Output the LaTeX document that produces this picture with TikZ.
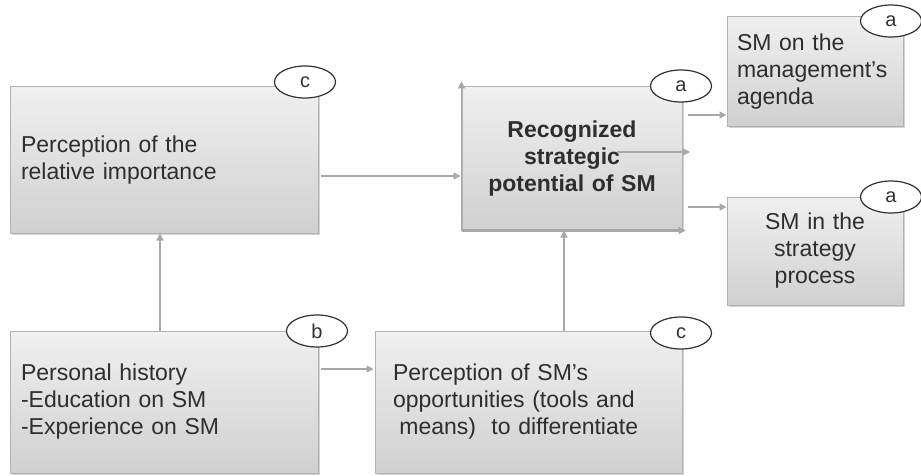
\documentclass[tikz,border=0pt]{standalone}
\usepackage{fontspec}
\setmainfont{Liberation Sans}
\usetikzlibrary{shapes.geometric,arrows.meta,shadows,calc}
\definecolor{boxline}{HTML}{B2B2B2}
\definecolor{boxtop}{HTML}{F0F0F0}
\definecolor{boxbot}{HTML}{D0D0D0}
\definecolor{txt}{HTML}{2E2E2E}
\definecolor{conncol}{HTML}{A8A8A8}
\definecolor{tagline}{HTML}{333333}
\tikzset{
  box/.style={rectangle, draw=boxline, line width=1pt, top color=boxtop, bottom color=boxbot,
    drop shadow={shadow xshift=1.5pt, shadow yshift=-1.5pt, opacity=0.35},
    text=txt, font=\fontsize{23}{27}\selectfont, inner ysep=0pt},
  tag/.style={ellipse, draw=tagline, line width=1.2pt, fill=white, minimum width=61pt,
    minimum height=32pt, inner sep=0pt, text=tagline, font=\fontsize{20}{22}\selectfont},
  conn/.style={draw=conncol, line width=1.4pt, -{Triangle[length=7pt,width=7pt]}},
}
\begin{document}
\begin{tikzpicture}[x=1pt,y=-1pt]
\useasboundingbox (0,0) rectangle (921,476);
% boxes
\node[box, minimum width=308pt, minimum height=146pt, text width=286pt, align=left, inner xsep=11pt]
  (imp) at (164,160) {Perception of the\\relative importance};
\node[box, minimum width=220pt, minimum height=143pt, text width=200pt, align=center, inner xsep=10pt, font=\fontsize{23}{27}\selectfont\bfseries]
  (rsp) at (572,158.5) {Recognized\\strategic\\potential of SM};
\node[box, minimum width=176pt, minimum height=110pt, text width=160pt, align=left, inner xsep=8pt]
  (agenda) at (815,72) {\hspace*{2pt}SM on the\\\hspace*{2pt}management’s\\\hspace*{2pt}agenda};
\node[box, minimum width=176pt, minimum height=108pt, text width=156pt, align=center, inner xsep=10pt]
  (strat) at (815,251) {SM in the\\strategy\\process};
\node[box, minimum width=308pt, minimum height=142pt, text width=286pt, align=left, inner xsep=11pt]
  (hist) at (164,402) {Personal history\\-Education on SM\\-Experience on SM};
\node[box, minimum width=307pt, minimum height=142pt, text width=271pt, align=left, inner xsep=18pt]
  (opp) at (528.5,402) {Perception of SM’s\\opportunities (tools and\\\hspace*{0.28em}means)\ \ to differentiate};
% connectors
\draw[conn, shorten <=2pt, shorten >=1pt] ([yshift=-16pt]imp.east) -- ([yshift=-16pt]imp.east -| rsp.west);
\draw[conn] ([xshift=-4pt]hist.north) -- ([xshift=-4pt]imp.south);
\draw[conn, shorten <=2pt, shorten >=1pt] ([yshift=33pt]hist.east) -- ([yshift=33pt]hist.east -| opp.west);
\draw[conn] ([xshift=-8pt]rsp.south |- opp.north) -- ([xshift=-8pt]rsp.south);
\draw[conn, shorten <=5pt] ([yshift=43.5pt]rsp.east) -- ([yshift=43.5pt]rsp.east -| agenda.west);
\draw[conn, shorten <=5pt] ([yshift=-48.5pt]rsp.east) -- ([yshift=-48.5pt]rsp.east -| strat.west);
% stray arrows on the central box
\draw[conn] (rsp.south west) -- ([yshift=5pt]rsp.north west);
\draw[conn, line width=2.2pt] (rsp.south west) -- ([xshift=3pt]rsp.south east);
\draw[conn] ([xshift=45pt,yshift=6.5pt]rsp.center) -- ([xshift=118pt,yshift=6.5pt]rsp.center);
% tags
\node[tag] (timp) at (305,82) {c};
\node[tag] (trsp) at (681,86) {a};
\node[tag] (tagenda) at (891,21) {a};
\node[tag] (tstrat) at (891,197) {a};
\node[tag] (thist) at (317,331) {b};
\node[tag] (topp) at (681,333) {c};
\end{tikzpicture}
\end{document}
